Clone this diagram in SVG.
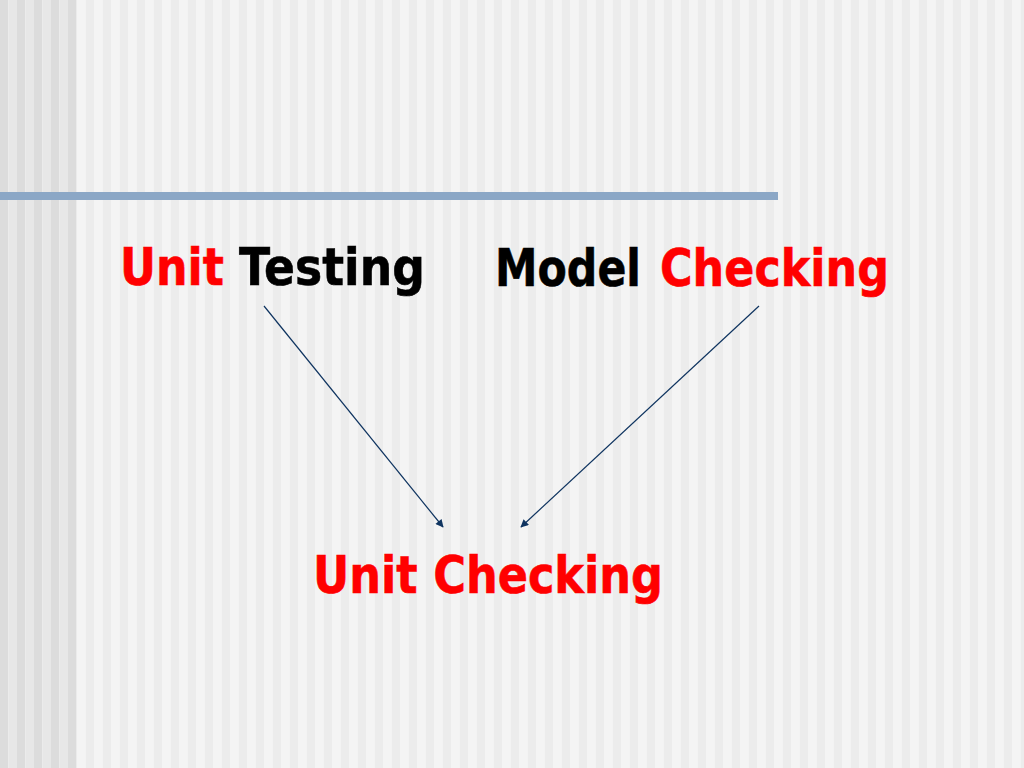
<svg xmlns="http://www.w3.org/2000/svg" width="1024" height="768" viewBox="0 0 1024 768">
  <defs>
    <pattern id="stripesDark" x="0" y="0" width="17" height="768" patternUnits="userSpaceOnUse">
      <rect x="0" y="0" width="8.5" height="768" fill="#dcdcdc"/>
      <rect x="8.5" y="0" width="8.5" height="768" fill="#e7e7e7"/>
    </pattern>
    <pattern id="stripesLight" x="77" y="0" width="17" height="768" patternUnits="userSpaceOnUse">
      <rect x="0" y="0" width="8.5" height="768" fill="#f4f4f4"/>
      <rect x="8.5" y="0" width="8.5" height="768" fill="#ececec"/>
    </pattern>
    <marker id="arrow" viewBox="0 0 10 10" refX="9" refY="5" markerWidth="10" markerHeight="8" markerUnits="userSpaceOnUse" orient="auto">
      <path d="M0,0 L10,5 L0,10 Z" fill="#0f3460"/>
    </marker>
    <style>
      .t { font-family: "DejaVu Sans", Verdana, sans-serif; font-weight: bold; font-size: 51px; stroke-width: 0.6; }
      .red { fill: #ff0000; stroke: #ff0000; }
      .blk { fill: #000000; stroke: #000000; }
      .conn { stroke: #0f3460; stroke-width: 1.2; fill: none; marker-end: url(#arrow); }
    </style>
  </defs>

  <g id="background">
    <rect x="0" y="0" width="77" height="768" fill="url(#stripesDark)"/>
    <rect x="77" y="0" width="947" height="768" fill="url(#stripesLight)"/>
    <rect x="0" y="192" width="778" height="8" fill="#8ba7c6"/>
  </g>

  <g id="connectors">
    <line class="conn" x1="264" y1="306" x2="443" y2="527"/>
    <line class="conn" x1="759" y1="306" x2="521" y2="527"/>
  </g>

  <g id="unit-testing">
    <text class="t red" x="120" y="285" textLength="104" lengthAdjust="spacingAndGlyphs">Unit</text>
    <text class="t blk" x="239" y="285" textLength="186" lengthAdjust="spacingAndGlyphs">Testing</text>
  </g>

  <g id="model-checking">
    <text class="t blk" x="495" y="286" textLength="146" lengthAdjust="spacingAndGlyphs">Model</text>
    <text class="t red" x="660" y="286" textLength="229" lengthAdjust="spacingAndGlyphs">Checking</text>
  </g>

  <g id="unit-checking">
    <text class="t red" x="313" y="593" textLength="350" lengthAdjust="spacingAndGlyphs">Unit Checking</text>
  </g>
</svg>
